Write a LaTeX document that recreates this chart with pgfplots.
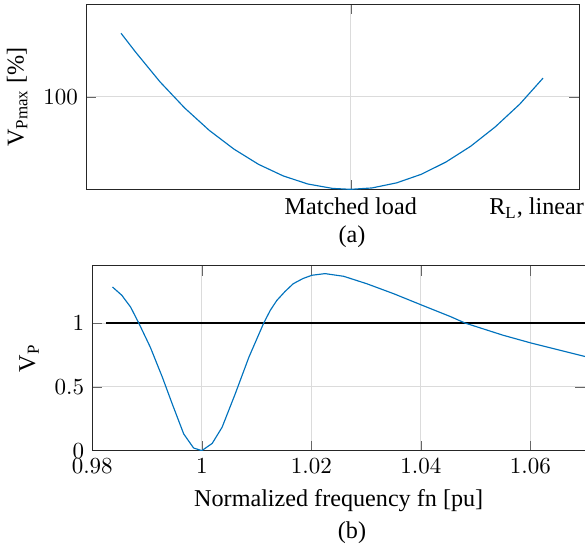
\documentclass[border=0pt]{standalone}
\usepackage{fontspec}
\setmainfont{Liberation Serif}
\usepackage{pgfplots}
\pgfplotsset{compat=1.18}
\definecolor{mblue}{rgb}{0,0.447,0.741}
\definecolor{gridgray}{rgb}{0.86,0.86,0.86}
\definecolor{axgray}{rgb}{0.15,0.15,0.15}
\newcommand{\lbl}{\fontsize{10.5}{12.5}\selectfont}
\newcommand{\rlin}{\lbl R\textsubscript{L}, linear}

\begin{document}
\begin{tikzpicture}
\pgfplotsset{every axis/.append style={
  scale only axis, width=214.3pt, height=80.4pt,
  axis line style={axgray}, tick style={gray!80!black},
  xmajorgrids, ymajorgrids, grid style={gridgray},
  tick label style={font=\normalsize},
  label style={font=\lbl}}}

\begin{axis}[name=top, at={(37.4pt,-1.9pt)}, anchor=north west,
  xmin=0, xmax=1, ymin=80, ymax=120,
  xtick={0.537}, xticklabels={\lbl Matched load},
  extra x ticks={0.914}, extra x tick labels={\rlin},
  extra x tick style={grid=none, major tick length=0pt},
  ytick={100},
  ylabel={V\textsubscript{Pmax} [\%]}]
\addplot[mblue, line width=0.5pt] coordinates {
(0.071,113.75) (0.10,109.75) (0.15,103.25) (0.20,97.60) (0.25,92.75)
(0.30,88.70) (0.35,85.40) (0.40,82.90) (0.45,81.15) (0.50,80.20)
(0.5366,80.00) (0.58,80.30) (0.63,81.40) (0.68,83.25) (0.73,85.90)
(0.78,89.30) (0.83,93.50) (0.88,98.45) (0.927,104.05)};
\end{axis}

\begin{axis}[name=bot, at={(40.1pt,-115.5pt)}, anchor=north west,
  xmin=0.98, xmax=1.07, ymin=0, ymax=1.45,
  xtick={0.98,1,1.02,1.04,1.06}, ytick={0,0.5,1},
  xlabel={Normalized frequency fn [pu]},
  ylabel={V\textsubscript{P}}]
\addplot[black, line width=1pt] coordinates {(0.9825,1) (1.07,1)};
\addplot[mblue, line width=0.5pt] coordinates {
(0.9837,1.283) (0.9854,1.218) (0.9870,1.126) (0.9885,1.000)
(0.9906,0.811) (0.9928,0.576) (0.9946,0.367) (0.9967,0.131)
(0.9985,0.021) (1.0000,0.000) (1.0019,0.057) (1.0037,0.183)
(1.0061,0.445) (1.0086,0.733) (1.0113,1.000) (1.0125,1.100)
(1.0137,1.178) (1.0152,1.248) (1.0167,1.309) (1.0185,1.350)
(1.0201,1.375) (1.0225,1.388) (1.0259,1.367) (1.0301,1.309)
(1.0350,1.231) (1.0400,1.144) (1.0453,1.053) (1.0481,1.000)
(1.0550,0.905) (1.0602,0.843) (1.0700,0.738)};
\end{axis}

\node[font=\lbl] at (153pt,-103pt) {(a)};
\node[font=\lbl] at (153pt,-231.7pt) {(b)};
\pgfresetboundingbox
\path (0,0) rectangle (254.3pt,-238.7pt);
\end{tikzpicture}
\end{document}
